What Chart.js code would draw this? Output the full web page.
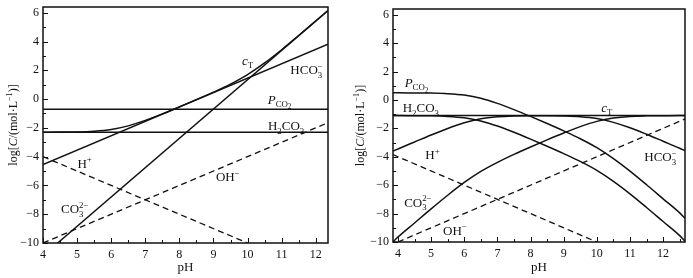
<!DOCTYPE html>
<html>
<head>
<meta charset="utf-8">
<script src="https://cdn.jsdelivr.net/npm/chart.js@4/dist/chart.umd.min.js"></script>
<style>
  html, body { margin: 0; padding: 0; background: #fff; }
  #wrap { position: relative; width: 693px; height: 278px; }
  canvas { position: absolute; top: 0; }
  #leftChart { left: 0; }
  #rightChart { left: 345px; }
</style>
</head>
<body>
<div id="wrap">
  <canvas id="leftChart" width="345" height="278"></canvas>
  <canvas id="rightChart" width="348" height="278"></canvas>
</div>
<script>
const FONT = '"Liberation Serif", "Times New Roman", serif';
const INK = '#111';

// tick labels
const majorX = [4, 5, 6, 7, 8, 9, 10, 11, 12];
const majorY = [6, 4, 2, 0, -2, -4, -6, -8, -10];

// left panel (open system)
const leftEdgePH = [4, 12.36];
const leftPCO2 = [-0.7, -0.7];
const leftH2CO3 = [-2.3, -2.3];
const leftHCO3 = [-4.55, 3.81];
const leftOH = [-10, -1.64];
const leftCO3PH = [4.43, 12.36];
const leftCO3 = [-10, 6.15];
const leftHPH = [4, 10];
const leftH = [-4, -10];
const leftCTPH = [4, 4.5, 5, 5.5, 6, 6.5, 7, 7.5, 8, 8.5, 9, 9.5, 10, 10.5, 11, 11.5, 12, 12.36];
const leftCT = [-2.3, -2.29, -2.28, -2.23, -2.11, -1.86, -1.48, -1.03, -0.54, -0.04, 0.48, 1.04, 1.7, 2.51, 3.43, 4.42, 5.43, 6.16];

// right panel (closed system)
const rightPH = [3.85, 4, 4.5, 5, 5.5, 6, 6.5, 7, 7.5, 8, 8.5, 9, 9.5, 10, 10.5, 11, 11.5, 12, 12.5, 12.66];
const rightPCO2 = [0.5, 0.5, 0.49, 0.48, 0.44, 0.34, 0.12, -0.24, -0.68, -1.16, -1.66, -2.18, -2.73, -3.36, -4.13, -5.01, -5.97, -6.96, -7.95, -8.33];
const rightH2CO3 = [-1.1, -1.1, -1.11, -1.12, -1.16, -1.26, -1.48, -1.84, -2.28, -2.76, -3.26, -3.78, -4.33, -4.96, -5.73, -6.61, -7.57, -8.56, -9.55, -9.95];
const rightHCO3 = [-3.6, -3.45, -2.96, -2.47, -2.01, -1.61, -1.33, -1.19, -1.13, -1.11, -1.11, -1.13, -1.18, -1.31, -1.58, -1.96, -2.42, -2.91, -3.4, -3.57];
const rightCO3 = [-10, -9.65, -8.66, -7.67, -6.71, -5.81, -5.03, -4.39, -3.83, -3.31, -2.81, -2.33, -1.88, -1.51, -1.28, -1.16, -1.12, -1.11, -1.1, -1.1];
const rightEdgePH = [3.85, 12.66];
const rightCT = [-1.1, -1.1];
const rightHPH = [3.85, 10];
const rightH = [-3.85, -10];
const rightOHPH = [4, 12.66];
const rightOH = [-10, -1.34];

// rich text runs: plain, italic, subscript, second-level subscript, superscript (stacked)
const N = t => ({ t });
const I = t => ({ t, it: true });
const S = t => ({ t, sub: 1 });
const S2 = t => ({ t, sub: 2 });
const U = (t, stack) => ({ t, sup: true, stack });

const yTitleRuns = [N('log['), I('C'), N('/(mol\u00b7L'), U('\u22121'), N(')]')];
const xTitleRuns = [N('pH')];

function pts(xs, ys) {
  return xs.map((x, i) => ({ x, y: ys[i] }));
}

function line(label, xs, ys, extra) {
  return Object.assign({
    label,
    data: pts(xs, ys),
    borderColor: INK,
    borderWidth: 1.5,
    pointRadius: 0,
    tension: 0,
    fill: false
  }, extra || {});
}

const dashed = { borderDash: [6, 4], borderWidth: 1.3 };
const smooth = { cubicInterpolationMode: 'monotone' };

function fmt(v) {
  return v < 0 ? '\u2212' + Math.abs(v) : String(v);
}

function runFont(r, size) {
  let s = size;
  if (r.sub === 1 || r.sup) s = size * 0.68;
  if (r.sub === 2) s = size * 0.55;
  return (r.it ? 'italic ' : '') + s.toFixed(1) + 'px ' + FONT;
}

function drawRuns(ctx, cx, cy, runs, size) {
  let w = 0, last = 0;
  const placed = runs.map(r => {
    ctx.font = runFont(r, size);
    const rw = ctx.measureText(r.t).width;
    let x0 = w;
    if (r.stack) {
      x0 = w - last;
      const nw = Math.max(last, rw);
      w = x0 + nw;
      last = nw;
    } else {
      w += rw;
      last = rw;
    }
    return { r, x0 };
  });
  const left = cx - w / 2;
  const base = cy + size * 0.35;
  ctx.textBaseline = 'alphabetic';
  ctx.textAlign = 'left';
  placed.forEach(({ r, x0 }) => {
    ctx.font = runFont(r, size);
    let dy = 0;
    if (r.sub === 1) dy = size * 0.28;
    if (r.sub === 2) dy = size * 0.45;
    if (r.sup) dy = -size * 0.42;
    ctx.fillText(r.t, left + x0, base + dy);
  });
}

// inward tick marks + plot frame
const frameAndTicks = {
  id: 'frameAndTicks',
  afterDatasetsDraw(chart) {
    const { ctx, chartArea: a, scales: { x, y } } = chart;
    ctx.save();
    ctx.strokeStyle = INK;
    ctx.lineWidth = 1;
    x.ticks.forEach(t => {
      const px = Math.round(x.getPixelForValue(t.value)) + 0.5;
      const len = Number.isInteger(t.value) ? 5 : 3;
      ctx.beginPath();
      ctx.moveTo(px, a.bottom);
      ctx.lineTo(px, a.bottom - len);
      ctx.stroke();
    });
    y.ticks.forEach(t => {
      const py = Math.round(y.getPixelForValue(t.value)) + 0.5;
      const len = t.value % 2 === 0 ? 5 : 3;
      ctx.beginPath();
      ctx.moveTo(a.left, py);
      ctx.lineTo(a.left + len, py);
      ctx.stroke();
    });
    ctx.lineWidth = 1.5;
    ctx.strokeRect(a.left, a.top, a.right - a.left, a.bottom - a.top);
    ctx.restore();
  }
};

// curve names and axis titles
const richText = {
  id: 'richText',
  afterDraw(chart, args, opts) {
    const { ctx, chartArea: a, scales: { x, y } } = chart;
    ctx.save();
    ctx.fillStyle = INK;
    (opts.items || []).forEach(it => {
      drawRuns(ctx, x.getPixelForValue(it.x), y.getPixelForValue(it.y), it.runs, 13);
    });
    drawRuns(ctx, (a.left + a.right) / 2, opts.xTitleY, xTitleRuns, 13);
    ctx.translate(opts.yTitleX, (a.top + a.bottom) / 2);
    ctx.rotate(-Math.PI / 2);
    drawRuns(ctx, 0, 0, yTitleRuns, 12);
    ctx.restore();
  }
};

function makeChart(id, datasets, p) {
  const tickFont = { family: FONT, size: 12 };
  return new Chart(document.getElementById(id), {
    type: 'line',
    data: { datasets },
    plugins: [frameAndTicks, richText],
    options: {
      responsive: false,
      animation: false,
      events: [],
      layout: { padding: { top: p.padTop, right: p.padRight, left: 0, bottom: 0 } },
      plugins: {
        legend: { display: false },
        tooltip: { enabled: false },
        richText: { items: p.labels, xTitleY: p.xTitleY, yTitleX: p.yTitleX }
      },
      scales: {
        x: {
          type: 'linear',
          min: p.xMin,
          max: p.xMax,
          grid: { display: false, drawTicks: false },
          border: { display: false },
          ticks: {
            stepSize: 0.5,
            autoSkip: false,
            maxRotation: 0,
            includeBounds: false,
            padding: 5,
            color: INK,
            font: tickFont,
            callback: v => majorX.includes(v) ? String(v) : ''
          },
          afterFit: s => { s.height = p.xAxisH; s.paddingLeft = 0; s.paddingRight = 0; }
        },
        y: {
          type: 'linear',
          min: -10,
          max: 6.4,
          grid: { display: false, drawTicks: false },
          border: { display: false },
          ticks: {
            stepSize: 1,
            autoSkip: false,
            includeBounds: false,
            padding: 4,
            color: INK,
            font: tickFont,
            callback: v => majorY.includes(v) ? fmt(v) : ''
          },
          afterFit: s => { s.width = p.yAxisW; s.paddingTop = 0; s.paddingBottom = 0; }
        }
      }
    }
  });
}

makeChart('leftChart', [
  line('PCO2', leftEdgePH, leftPCO2),
  line('H2CO3', leftEdgePH, leftH2CO3),
  line('HCO3-', leftEdgePH, leftHCO3),
  line('CO3 2-', leftCO3PH, leftCO3),
  line('cT', leftCTPH, leftCT, smooth),
  line('H+', leftHPH, leftH, dashed),
  line('OH-', leftEdgePH, leftOH, dashed)
], {
  xMin: 4, xMax: 12.36, padTop: 7, padRight: 17, yAxisW: 43, xAxisH: 35,
  xTitleY: 266, yTitleX: 13,
  labels: [
    { x: 10.0, y: 2.7, runs: [I('c'), S('T')] },
    { x: 11.73, y: 2.05, runs: [N('HCO'), S('3'), U('\u2212', true)] },
    { x: 10.94, y: 0.0, runs: [I('P'), S('CO'), S2('2')] },
    { x: 11.13, y: -1.83, runs: [N('H'), S('2'), N('CO'), S('3')] },
    { x: 5.22, y: -4.45, runs: [N('H'), U('+')] },
    { x: 9.42, y: -5.4, runs: [N('OH'), U('\u2212')] },
    { x: 4.93, y: -7.6, runs: [N('CO'), S('3'), U('2\u2212', true)] }
  ]
});

makeChart('rightChart', [
  line('PCO2', rightPH, rightPCO2, smooth),
  line('H2CO3', rightPH, rightH2CO3, smooth),
  line('HCO3-', rightPH, rightHCO3, smooth),
  line('CO3 2-', rightPH, rightCO3, smooth),
  line('cT', rightEdgePH, rightCT),
  line('H+', rightHPH, rightH, dashed),
  line('OH-', rightOHPH, rightOH, dashed)
], {
  xMin: 3.85, xMax: 12.66, padTop: 9, padRight: 8, yAxisW: 48, xAxisH: 36,
  xTitleY: 266, yTitleX: 15,
  labels: [
    { x: 4.56, y: 1.24, runs: [I('P'), S('CO'), S2('2')] },
    { x: 4.69, y: -0.56, runs: [N('H'), S('2'), N('CO'), S('3')] },
    { x: 10.3, y: -0.51, runs: [I('c'), S('T')] },
    { x: 11.92, y: -3.98, runs: [N('HCO'), S('3'), U('\u2212', true)] },
    { x: 5.04, y: -3.84, runs: [N('H'), U('+')] },
    { x: 4.6, y: -7.19, runs: [N('CO'), S('3'), U('2\u2212', true)] },
    { x: 5.72, y: -9.18, runs: [N('OH'), U('\u2212')] }
  ]
});
</script>
</body>
</html>
